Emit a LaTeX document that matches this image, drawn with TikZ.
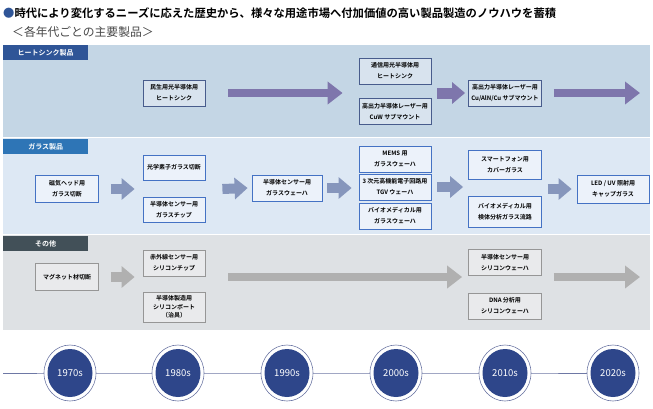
\documentclass[tikz,border=0pt]{standalone}
\usepackage{fontspec}
\setmainfont{Noto Sans CJK JP}[BoldFont={Noto Sans CJK JP Bold}]
\usetikzlibrary{arrows.meta,shapes.geometric}
\pgfdeclarelayer{bg}
\pgfsetlayers{bg,main}
\definecolor{hsband}{RGB}{196,214,229}
\definecolor{hstab}{RGB}{47,85,151}
\definecolor{hsfill}{RGB}{216,227,238}
\definecolor{hsline}{RGB}{72,92,140}
\definecolor{hsarrow}{RGB}{126,118,172}
\definecolor{glband}{RGB}{221,232,244}
\definecolor{gltab}{RGB}{46,117,182}
\definecolor{glfill}{RGB}{236,242,250}
\definecolor{glline}{RGB}{68,114,196}
\definecolor{glarrow}{RGB}{134,150,188}
\definecolor{otband}{RGB}{222,225,228}
\definecolor{ottab}{RGB}{66,80,88}
\definecolor{otfill}{RGB}{233,234,236}
\definecolor{otline}{RGB}{150,150,150}
\definecolor{otarrow}{RGB}{176,176,176}
\definecolor{decfill}{RGB}{46,70,138}
\definecolor{decline}{RGB}{110,120,165}
\definecolor{subgray}{RGB}{70,70,70}

\begin{document}
\begin{tikzpicture}[x=1pt, y=-1pt,
  box/.style={draw, line width=0.8pt, inner sep=0pt, align=center, minimum height=26pt,
    font=\fontsize{6}{11}\selectfont\bfseries},
  hsbox/.style={box, draw=hsline, fill=hsfill},
  glbox/.style={box, draw=glline, fill=glfill},
  otbox/.style={box, draw=otline, fill=otfill},
  tab/.style={anchor=north west, minimum width=85pt, minimum height=15pt, inner sep=0pt,
    text=white, font=\fontsize{7}{8}\selectfont\bfseries},
  longarrow/.style={line width=8pt, -{Triangle[length=15pt,width=22pt]}},
  shortarrow/.style={line width=10pt, -{Triangle[length=13pt,width=21pt]}},
  decade/.style={ellipse, fill=decfill, minimum width=45pt, minimum height=48pt, inner sep=0pt,
    text=white, font=\fontsize{9.5}{10}\selectfont},
  ring/.style={draw=decline, line width=0.6pt, fill=white}]
  \useasboundingbox (0,0) rectangle (653,408);

  % title
  \node[anchor=west, inner sep=0pt, font=\fontsize{11.3}{13}\selectfont\bfseries] (title) at (3,13)
    {{\color{hstab}●}時代により変化するニーズに応えた歴史から、様々な用途市場へ付加価値の高い製品製造のノウハウを蓄積};
  \node[anchor=west, inner sep=0pt, text=subgray, font=\fontsize{11.8}{13}\selectfont] (subtitle) at (12,32)
    {＜各年代ごとの主要製品＞};

  % bands
  \fill[hsband] (3,45) rectangle (650,137);
  \fill[glband] (3,138) rectangle (650,234);
  \fill[otband] (3,235) rectangle (650,330);
  \node[tab, fill=hstab] (hstab) at (3,45) {ヒートシンク製品};
  \node[tab, fill=gltab] (gltab) at (3,139) {ガラス製品};
  \node[tab, fill=ottab] (ottab) at (3,236) {その他};

  % heat sink
  \node[hsbox, minimum width=62pt] (minsei) at (174,93) {民生用光半導体用\\ヒートシンク};
  \node[hsbox, minimum width=72pt] (tsushin) at (395,71) {通信用光半導体用\\ヒートシンク};
  \node[hsbox, minimum width=72pt] (cuw) at (395,111.5) {高出力半導体レーザー用\\CuW サブマウント};
  \node[hsbox, minimum width=73pt] (cualn) at (505,93) {高出力半導体レーザー用\\Cu/AlN/Cu サブマウント};
  \coordinate (hsend) at (640,93);
  \draw[longarrow, hsarrow] ([xshift=23pt]minsei.east) -- ([xshift=-16pt]minsei.east -| tsushin.west);
  \draw[shortarrow, hsarrow, line width=11pt] ([xshift=6pt]tsushin.east |- cualn.west) -- ([xshift=-3pt]cualn.west);
  \draw[longarrow, hsarrow] ([xshift=12pt]cualn.east) -- (hsend);

  % glass
  \node[glbox, minimum width=63pt, minimum height=27pt] (jiki) at (67,189) {磁気ヘッド用\\ガラス切断};
  \node[glbox, minimum width=62pt, minimum height=25pt] (kogaku) at (174,167.5) {光学素子ガラス切断};
  \node[glbox, minimum width=62pt, minimum height=25pt] (gchip) at (174,209.5) {半導体センサー用\\ガラスチップ};
  \node[glbox, minimum width=70pt] (gwafer) at (287,188) {半導体センサー用\\ガラスウェーハ};
  \node[glbox, minimum width=72pt] (mems) at (395,159) {MEMS 用\\ガラスウェーハ};
  \node[glbox, minimum width=72pt] (tgv) at (395,187) {3 次元高機能電子回路用\\TGV ウェーハ};
  \node[glbox, minimum width=72pt] (biog) at (395,216) {バイオメディカル用\\ガラスウェーハ};
  \node[glbox, minimum width=73pt, minimum height=29pt] (smaho) at (505,165) {スマートフォン用\\カバーガラス};
  \node[glbox, minimum width=73pt, minimum height=31pt] (kentai) at (505,211.5) {バイオメディカル用\\検体分析ガラス流路};
  \node[glbox, minimum width=72pt, minimum height=28pt] (led) at (613,189) {LED / UV 照射用\\キャップガラス};
  \draw[shortarrow, glarrow] ([xshift=12pt]jiki.east) -- ([xshift=-8pt]jiki.east -| kogaku.west);
  \draw[shortarrow, glarrow] ([xshift=17pt]jiki.east -| kogaku.east) -- ([xshift=-4pt]gwafer.west);
  \draw[shortarrow, glarrow] ([xshift=5pt]gwafer.east) -- ([xshift=-7pt]gwafer.east -| tgv.west);
  \draw[shortarrow, glarrow] ([xshift=6pt]tgv.east) -- ([xshift=-5pt]tgv.east -| smaho.west);
  \draw[shortarrow, glarrow] ([xshift=6pt]smaho.east |- led.west) -- ([xshift=-5pt]led.west);

  % other
  \node[otbox, minimum width=63pt, minimum height=27pt] (magnet) at (67,277) {マグネット材切断};
  \node[otbox, minimum width=62pt] (sekigai) at (174,263) {赤外線センサー用\\シリコンチップ};
  \node[otbox, minimum width=62pt, minimum height=30pt, font=\fontsize{6}{8.5}\selectfont\bfseries] (boat) at (174,307)
    {半導体製造用\\シリコンボート\\（治具）};
  \node[otbox, minimum width=73pt] (siwafer) at (505,262.5) {半導体センサー用\\シリコンウェーハ};
  \node[otbox, minimum width=73pt] (dna) at (505,306) {DNA 分析用\\シリコンウェーハ};
  \coordinate (otend) at (640,277);
  \draw[shortarrow, otarrow] ([xshift=12pt]magnet.east) -- ([xshift=-8pt]magnet.east -| sekigai.west);
  \draw[longarrow, otarrow] ([xshift=23pt]magnet.east -| sekigai.east) -- ([xshift=-6pt]magnet.east -| siwafer.west);
  \draw[longarrow, otarrow] ([xshift=12pt]siwafer.east |- magnet.east) -- (otend);

  % timeline
  \coordinate (tlstart) at (3,373);
  \node[decade] (d1970) at (70,373) {1970s};
  \node[decade] (d1980) at (178,373) {1980s};
  \node[decade] (d1990) at (287,373) {1990s};
  \node[decade] (d2000) at (396,373) {2000s};
  \node[decade] (d2010) at (505,373) {2010s};
  \node[decade] (d2020) at (613,373) {2020s};
  \begin{pgfonlayer}{bg}
    \draw[decline, line width=0.8pt] (tlstart) -- (d1970.center) -- (d1980.center) -- (d1990.center)
      -- (d2000.center) -- (d2010.center) -- (d2020.center);
    \draw[ring] (d1970.center) ellipse [x radius=26, y radius=28];
    \draw[ring] (d1980.center) ellipse [x radius=26, y radius=28];
    \draw[ring] (d1990.center) ellipse [x radius=26, y radius=28];
    \draw[ring] (d2000.center) ellipse [x radius=26, y radius=28];
    \draw[ring] (d2010.center) ellipse [x radius=26, y radius=28];
    \draw[ring] (d2020.center) ellipse [x radius=26, y radius=28];
  \end{pgfonlayer}
\end{tikzpicture}
\end{document}
